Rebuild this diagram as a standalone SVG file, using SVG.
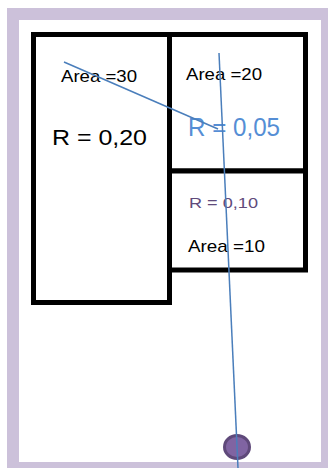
<svg xmlns="http://www.w3.org/2000/svg" width="328" height="468" viewBox="0 0 328 468">
<style>
.box{fill:#fff;stroke:#000;stroke-width:5}
.t{font-family:"Liberation Sans",Arial,sans-serif;fill:#000}
.conn{stroke:#4A7EBB;stroke-width:1.5;fill:none}
</style>
<rect x="0" y="0" width="328" height="468" fill="#fff"/>
<rect id="frame" x="13" y="14" width="314" height="454" fill="#fff" stroke="#CCC1DA" stroke-width="12"/>
<g id="room30">
<rect class="box" x="33.5" y="34.5" width="136" height="268"/>
<text class="t" x="61" y="82" font-size="17" textLength="76" lengthAdjust="spacingAndGlyphs">Area =30</text>
<text class="t" x="52" y="145" font-size="22" textLength="95" lengthAdjust="spacingAndGlyphs">R = 0,20</text>
</g>
<g id="room20">
<rect class="box" x="169.5" y="34.5" width="136" height="136.5"/>
<text class="t" x="186" y="80" font-size="17" textLength="76" lengthAdjust="spacingAndGlyphs">Area =20</text>
<text class="t" x="188" y="136" font-size="25" style="fill:#558ED5" textLength="92" lengthAdjust="spacingAndGlyphs">R = 0,05</text>
</g>
<g id="room10">
<rect class="box" x="169.5" y="171" width="136" height="99"/>
<text class="t" x="189" y="208" font-size="15" style="fill:#604A7B" textLength="69" lengthAdjust="spacingAndGlyphs">R = 0,10</text>
<text class="t" x="188" y="252" font-size="17" textLength="77" lengthAdjust="spacingAndGlyphs">Area =10</text>
</g>
<g id="point">
<ellipse cx="237" cy="447" rx="12.5" ry="11.5" fill="#8064A2" stroke="#5F497A" stroke-width="3"/>
</g>
<g id="connectors">
<line class="conn" x1="64" y1="62" x2="218" y2="129"/>
<line class="conn" x1="219" y1="53" x2="238" y2="468"/>
</g>
</svg>
